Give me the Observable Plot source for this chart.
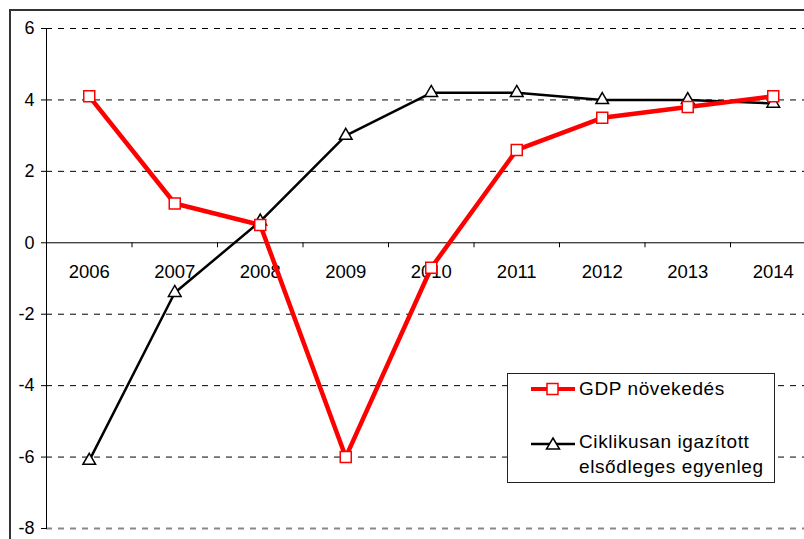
<!DOCTYPE html>
<html>
<head>
<meta charset="utf-8">
<script src="https://cdn.jsdelivr.net/npm/d3@7"></script>
<script src="https://cdn.jsdelivr.net/npm/@observablehq/plot@0.6"></script>
<style>
  html, body { margin: 0; padding: 0; background: #fff; overflow: hidden; }
  #wrap { position: relative; width: 804px; height: 539px; overflow: hidden; font-family: "Liberation Sans", Arial, sans-serif; }
  #chart { position: absolute; left: 0; top: 0; z-index: 1; }
  #border { position: absolute; z-index: 5; left: 9px; top: 9px; width: 900px; height: 900px; border-left: 2px solid #333; border-top: 2px solid #333; pointer-events: none; }
  #legend { position: absolute; z-index: 6; left: 507px; top: 373px; width: 268px; height: 110px; border: 1px solid #222; background: #fff; box-sizing: border-box; }
  .item { position: absolute; left: 22px; display: flex; align-items: flex-start; }
  .item svg { flex: none; }
  .lab { font-size: 19px; color: #000; line-height: 25px; margin-left: 3px; letter-spacing: 0.6px; }
</style>
</head>
<body>
<div id="wrap">
  <div id="chart"></div>
  <div id="border"></div>
  <div id="legend">
    <div class="item" style="top:2px">
      <svg width="46" height="25"><line x1="1" y1="13" x2="45" y2="13" stroke="#ff0000" stroke-width="4"/><rect x="17" y="7.5" width="11" height="11" fill="#fff" stroke="#ff0000" stroke-width="1.5"/></svg>
      <div class="lab" id="lab0"></div>
    </div>
    <div class="item" style="top:55px">
      <svg width="46" height="25"><line x1="1" y1="15" x2="45" y2="15" stroke="#000" stroke-width="2.5"/><path d="M23,9 L29.5,20 L16.5,20 Z" fill="#fff" stroke="#000" stroke-width="1.5"/></svg>
      <div class="lab" id="lab1"></div>
    </div>
  </div>
</div>
<script>
const years = [2006, 2007, 2008, 2009, 2010, 2011, 2012, 2013, 2014];
const gdp = [4.1, 1.1, 0.5, -6.0, -0.7, 2.6, 3.5, 3.8, 4.1];
const balance = [-6.1, -1.4, 0.6, 3.0, 4.2, 4.2, 4.0, 4.0, 3.9];
const yTicks = [-8, -6, -4, -2, 0, 2, 4, 6];
const seriesNames = ["GDP növekedés", "Ciklikusan igazított\nelsődleges egyenleg"];

document.getElementById("lab0").textContent = seriesNames[0];
document.getElementById("lab1").innerHTML = seriesNames[1].split("\n").join("<br>");

const gdpData = years.map((y, i) => ({year: y, value: gdp[i]}));
const balData = years.map((y, i) => ({year: y, value: balance[i]}));
const boundaries = years.slice(0, -1).map(y => y + 0.5);

const chart = Plot.plot({
  width: 804,
  height: 539,
  marginLeft: 46,
  marginRight: 0,
  marginTop: 28,
  marginBottom: 11,
  style: {fontFamily: "'Liberation Sans', Arial, sans-serif", background: "transparent"},
  x: {type: "linear", domain: [years[0] - 0.5, years[years.length - 1] + 0.5], range: [46, 815.5], axis: null},
  y: {domain: [-8, 6], range: [528, 28], axis: null},
  marks: [
    Plot.ruleY(yTicks.filter(t => t !== -8 && t !== 0), {y: d => d, stroke: "#000", strokeWidth: 1, strokeDasharray: "6,6"}),
    Plot.ruleY([-8], {y: d => d, stroke: "#888", strokeWidth: 2, strokeDasharray: "6,6"}),
    Plot.axisY(yTicks, {anchor: "left", label: null, tickSize: 5, tickPadding: 7, fontSize: 18, tickFormat: d => d < 0 ? "-" + Math.abs(d) : String(d), color: "#000"}),
    Plot.frame({anchor: "left", stroke: "#000"}),
    Plot.ruleY([0], {y: d => d, stroke: "#000", strokeWidth: 1}),
    Plot.ruleX(boundaries, {x: d => d, y1: 0, y2: 0, insetBottom: -5, stroke: "#000"}),
    Plot.text(years, {x: d => d, y: 0, dy: 29, text: d => String(d), fontSize: 18.5, fill: "#000"}),
    Plot.line(balData, {x: "year", y: "value", stroke: "#000", strokeWidth: 2.5}),
    Plot.line(gdpData, {x: "year", y: "value", stroke: "#ff0000", strokeWidth: 4.5}),
    Plot.dot(balData, {x: "year", y: "value", symbol: "triangle", r: 4.7, fill: "#fff", stroke: "#000", strokeWidth: 1.5}),
    Plot.dot(gdpData, {x: "year", y: "value", symbol: "square", r: 6.2, fill: "#fff", stroke: "#ff0000", strokeWidth: 1.5})
  ]
});
document.getElementById("chart").appendChild(chart);
</script>
</body>
</html>
